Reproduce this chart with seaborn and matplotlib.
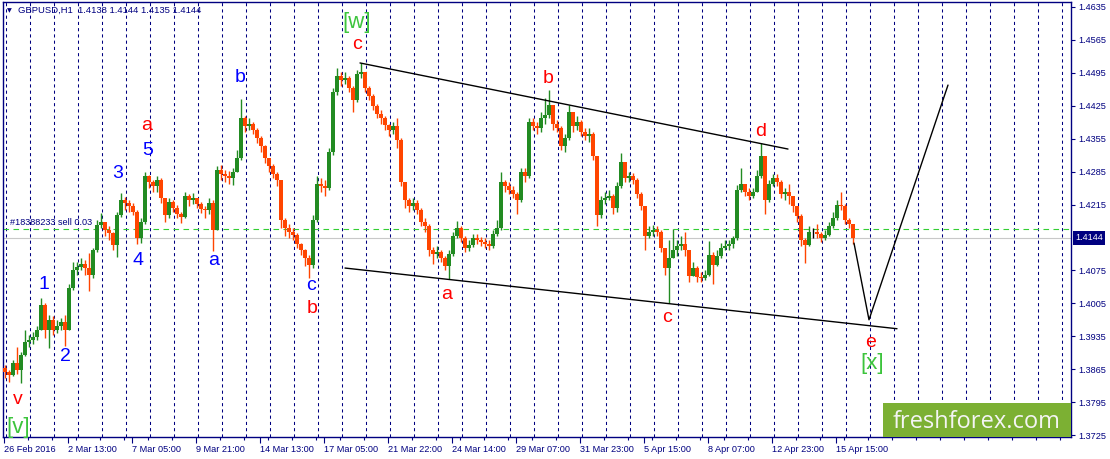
import numpy as np
import pandas as pd
import seaborn as sns
import matplotlib.pyplot as plt
from matplotlib.patches import Rectangle
import matplotlib.transforms as mtransforms

# ==============================================
# Data: H4 bars (26 Feb - 15 Apr 2016)
# ==============================================
first_open = 1.3868
close = [
    1.3859, 1.3853, 1.3878, 1.3863, 1.3895, 1.3923, 1.3927, 1.3933, 1.3948, 1.4001,
    1.3948, 1.3970, 1.3948, 1.3957, 1.3965, 1.3948, 1.4038, 1.4076, 1.4082, 1.4089,
    1.4080, 1.4065, 1.4118, 1.4172, 1.4178, 1.4161, 1.4155, 1.4129, 1.4193, 1.4225,
    1.4218, 1.4212, 1.4199, 1.4144, 1.4178, 1.4276, 1.4263, 1.4254, 1.4267, 1.4229,
    1.4193, 1.4220, 1.4208, 1.4195, 1.4189, 1.4233, 1.4225, 1.4229, 1.4216, 1.4206,
    1.4203, 1.4218, 1.4161, 1.4288, 1.4280, 1.4276, 1.4271, 1.4284, 1.4314, 1.4399,
    1.4382, 1.4386, 1.4374, 1.4357, 1.4339, 1.4314, 1.4297, 1.4280, 1.4267, 1.4182,
    1.4165, 1.4157, 1.4150, 1.4131, 1.4118, 1.4101, 1.4087, 1.4182, 1.4259, 1.4254,
    1.4250, 1.4327, 1.4454, 1.4488, 1.4480, 1.4484, 1.4463, 1.4437, 1.4493, 1.4497,
    1.4463, 1.4446, 1.4425, 1.4408, 1.4399, 1.4384, 1.4374, 1.4382, 1.4352, 1.4263,
    1.4225, 1.4212, 1.4218, 1.4203, 1.4178, 1.4169, 1.4118, 1.4110, 1.4114, 1.4101,
    1.4084, 1.4110, 1.4148, 1.4165, 1.4144, 1.4123, 1.4129, 1.4144, 1.4140, 1.4135,
    1.4131, 1.4127, 1.4152, 1.4165, 1.4263, 1.4254, 1.4246, 1.4237, 1.4225, 1.4284,
    1.4276, 1.4391, 1.4382, 1.4378, 1.4399, 1.4405, 1.4427, 1.4386, 1.4378, 1.4339,
    1.4357, 1.4412, 1.4382, 1.4391, 1.4369, 1.4361, 1.4365, 1.4318, 1.4193, 1.4225,
    1.4229, 1.4233, 1.4208, 1.4254, 1.4305, 1.4271, 1.4276, 1.4267, 1.4237, 1.4212,
    1.4148, 1.4157, 1.4161, 1.4157, 1.4123, 1.4080, 1.4101, 1.4118, 1.4127, 1.4131,
    1.4118, 1.4063, 1.4080, 1.4061, 1.4059, 1.4065, 1.4108, 1.4087, 1.4106, 1.4123,
    1.4127, 1.4131, 1.4144, 1.4246, 1.4259, 1.4242, 1.4233, 1.4242, 1.4276, 1.4318,
    1.4225, 1.4259, 1.4271, 1.4263, 1.4237, 1.4242, 1.4233, 1.4212, 1.4191, 1.4140,
    1.4129, 1.4157, 1.4157, 1.4152, 1.4144, 1.4150, 1.4169, 1.4186, 1.4214, 1.4212,
    1.4182, 1.4174, 1.4144,
]
high = [
    1.3874, 1.3863, 1.3884, 1.3912, 1.3901, 1.3948, 1.3938, 1.3944, 1.3957, 1.4016,
    1.4006, 1.3980, 1.3978, 1.3970, 1.3974, 1.3980, 1.4046, 1.4093, 1.4093, 1.4101,
    1.4097, 1.4112, 1.4123, 1.4182, 1.4197, 1.4178, 1.4169, 1.4157, 1.4199, 1.4240,
    1.4231, 1.4225, 1.4218, 1.4203, 1.4186, 1.4284, 1.4278, 1.4267, 1.4276, 1.4271,
    1.4229, 1.4229, 1.4225, 1.4214, 1.4199, 1.4242, 1.4237, 1.4240, 1.4229, 1.4220,
    1.4212, 1.4229, 1.4225, 1.4297, 1.4299, 1.4288, 1.4286, 1.4293, 1.4331, 1.4439,
    1.4403, 1.4399, 1.4391, 1.4378, 1.4361, 1.4342, 1.4314, 1.4301, 1.4284, 1.4267,
    1.4186, 1.4174, 1.4165, 1.4155, 1.4133, 1.4121, 1.4108, 1.4193, 1.4276, 1.4271,
    1.4267, 1.4335, 1.4463, 1.4505, 1.4497, 1.4497, 1.4488, 1.4467, 1.4501, 1.4516,
    1.4497, 1.4467, 1.4450, 1.4429, 1.4416, 1.4403, 1.4386, 1.4391, 1.4399, 1.4357,
    1.4263, 1.4229, 1.4229, 1.4225, 1.4208, 1.4186, 1.4174, 1.4125, 1.4127, 1.4118,
    1.4106, 1.4118, 1.4157, 1.4180, 1.4169, 1.4148, 1.4140, 1.4152, 1.4152, 1.4146,
    1.4144, 1.4140, 1.4161, 1.4182, 1.4284, 1.4267, 1.4263, 1.4254, 1.4242, 1.4293,
    1.4293, 1.4399, 1.4399, 1.4391, 1.4412, 1.4442, 1.4459, 1.4425, 1.4395, 1.4382,
    1.4365, 1.4427, 1.4412, 1.4403, 1.4395, 1.4378, 1.4378, 1.4369, 1.4318, 1.4233,
    1.4242, 1.4246, 1.4237, 1.4263, 1.4325, 1.4305, 1.4284, 1.4282, 1.4271, 1.4242,
    1.4212, 1.4169, 1.4172, 1.4169, 1.4161, 1.4123, 1.4140, 1.4163, 1.4140, 1.4148,
    1.4157, 1.4118, 1.4093, 1.4084, 1.4072, 1.4076, 1.4137, 1.4114, 1.4118, 1.4133,
    1.4140, 1.4140, 1.4148, 1.4257, 1.4293, 1.4259, 1.4250, 1.4250, 1.4288, 1.4346,
    1.4314, 1.4267, 1.4280, 1.4280, 1.4267, 1.4250, 1.4259, 1.4233, 1.4212, 1.4195,
    1.4144, 1.4169, 1.4165, 1.4174, 1.4157, 1.4161, 1.4178, 1.4199, 1.4225, 1.4242,
    1.4216, 1.4186, 1.4174,
]
low = [
    1.3846, 1.3838, 1.3850, 1.3855, 1.3836, 1.3893, 1.3912, 1.3919, 1.3927, 1.3948,
    1.3931, 1.3910, 1.3938, 1.3942, 1.3948, 1.3914, 1.3948, 1.4033, 1.4065, 1.4076,
    1.4065, 1.4031, 1.4059, 1.4114, 1.4165, 1.4148, 1.4140, 1.4118, 1.4104, 1.4189,
    1.4203, 1.4199, 1.4193, 1.4131, 1.4133, 1.4174, 1.4250, 1.4242, 1.4242, 1.4218,
    1.4178, 1.4186, 1.4199, 1.4186, 1.4176, 1.4186, 1.4212, 1.4216, 1.4208, 1.4197,
    1.4186, 1.4195, 1.4116, 1.4161, 1.4267, 1.4263, 1.4259, 1.4257, 1.4284, 1.4310,
    1.4369, 1.4374, 1.4365, 1.4346, 1.4327, 1.4303, 1.4284, 1.4271, 1.4254, 1.4165,
    1.4148, 1.4144, 1.4140, 1.4123, 1.4108, 1.4084, 1.4059, 1.4080, 1.4178, 1.4242,
    1.4233, 1.4246, 1.4320, 1.4448, 1.4467, 1.4471, 1.4454, 1.4412, 1.4433, 1.4484,
    1.4454, 1.4437, 1.4416, 1.4399, 1.4386, 1.4374, 1.4361, 1.4365, 1.4335, 1.4254,
    1.4208, 1.4199, 1.4203, 1.4195, 1.4169, 1.4157, 1.4106, 1.4089, 1.4101, 1.4093,
    1.4076, 1.4057, 1.4106, 1.4144, 1.4135, 1.4114, 1.4116, 1.4125, 1.4131, 1.4127,
    1.4123, 1.4118, 1.4123, 1.4148, 1.4161, 1.4242, 1.4237, 1.4229, 1.4195, 1.4220,
    1.4263, 1.4271, 1.4374, 1.4365, 1.4369, 1.4386, 1.4399, 1.4374, 1.4369, 1.4331,
    1.4327, 1.4352, 1.4369, 1.4374, 1.4361, 1.4352, 1.4348, 1.4310, 1.4169, 1.4186,
    1.4216, 1.4225, 1.4195, 1.4199, 1.4250, 1.4263, 1.4263, 1.4259, 1.4229, 1.4203,
    1.4118, 1.4144, 1.4148, 1.4148, 1.4114, 1.4065, 1.4006, 1.4101, 1.4106, 1.4118,
    1.4106, 1.4050, 1.4063, 1.4050, 1.4050, 1.4055, 1.4063, 1.4046, 1.4084, 1.4101,
    1.4118, 1.4118, 1.4123, 1.4140, 1.4242, 1.4233, 1.4225, 1.4229, 1.4242, 1.4271,
    1.4195, 1.4220, 1.4254, 1.4254, 1.4229, 1.4225, 1.4216, 1.4199, 1.4178, 1.4127,
    1.4091, 1.4127, 1.4144, 1.4144, 1.4135, 1.4140, 1.4148, 1.4165, 1.4182, 1.4203,
    1.4174, 1.4165, 1.4131,
]

x_labels = ["26 Feb 2016", "2 Mar 13:00", "7 Mar 05:00", "9 Mar 21:00", "14 Mar 13:00",
            "17 Mar 05:00", "21 Mar 22:00", "24 Mar 14:00", "29 Mar 07:00", "31 Mar 23:00",
            "5 Apr 15:00", "8 Apr 07:00", "12 Apr 23:00", "15 Apr 15:00"]
y_ticks = [1.3725, 1.3795, 1.3865, 1.3935, 1.4005, 1.4075, 1.4215,
           1.4285, 1.4355, 1.4425, 1.4495, 1.4565, 1.4635]

header = "GBPUSD,H1  1.4138 1.4144 1.4135 1.4144"
bid = 1.4144
order_price = 1.4163
order_text = "#18388233 sell 0.03"

# trend lines: hour index, price
upper_x, upper_y = [356.5, 784.5], [1.4516, 1.4333]
lower_x, lower_y = [341.5, 893.5], [1.4080, 1.3951]
proj_x, proj_y = [850.5, 865.5, 944.5], [1.4133, 1.3970, 1.4469]

RED, BLUE, GREEN = "#ff0000", "#0000ff", "#3cc43c"
waves = [
    ("[w]", 353.5, 1.4603, GREEN), ("c", 353.5, 1.4556, RED),
    ("b", 236.5, 1.4486, BLUE), ("a", 143.5, 1.4382, RED),
    ("5", 144.5, 1.4329, BLUE), ("3", 114.5, 1.4280, BLUE),
    ("4", 134.5, 1.4097, BLUE), ("a", 210.5, 1.4095, BLUE),
    ("1", 40.5, 1.4044, BLUE), ("2", 61.5, 1.3893, BLUE),
    ("c", 307.5, 1.4042, BLUE), ("b", 308.5, 1.3993, RED),
    ("v", 14.5, 1.3800, RED), ("[v]", 14.5, 1.3740, GREEN),
    ("b", 544.5, 1.4484, RED), ("a", 443.5, 1.4023, RED),
    ("c", 663.5, 1.3974, RED), ("d", 757.5, 1.4371, RED),
    ("e", 867.5, 1.3921, RED), ("[x]", 868.5, 1.3878, GREEN),
]

# ==============================================
# Style
# ==============================================
sns.set_theme(style="white")
plt.rcParams["font.family"] = ["Liberation Sans", "DejaVu Sans"]
NAVY = "#000080"

n_hours = 1068
hours = pd.date_range("2016-02-26 21:00", periods=1800, freq="h")
hours = hours[hours.dayofweek < 5][:n_hours]
day_starts = np.where(hours.hour == 0)[0] - 0.5

fig = plt.figure(figsize=(11.1, 4.59), dpi=100)
ax = fig.add_axes([3 / 1110, 22 / 459, 1068 / 1110, 435 / 459])
ax.set_xlim(-0.5, n_hours - 0.5)
ax.set_ylim(1.37208, 1.46456)

for xs in day_starts:
    ax.axvline(xs, color=NAVY, lw=0.75, ls=(0, (3, 3)), zorder=1)

ax.axhline(bid, color="#c8c8c8", lw=0.8, zorder=1.5)
ax.axhline(order_price, color="#32cd32", lw=0.8, ls=(0, (5, 4)), zorder=1.6)
ax.annotate(order_text, xy=(6.5, order_price), xytext=(0, 1.5), textcoords="offset points",
            color=NAVY, fontsize=6.6, va="bottom", ha="left")

# ==============================================
# Bars
# ==============================================
c = np.array(close)
o = np.r_[first_open, c[:-1]]
h = np.maximum(np.array(high), np.maximum(o, c))
lo = np.minimum(np.array(low), np.minimum(o, c))
xk = np.arange(len(c)) * 4 + 1.5
cols = np.where(c > o, "#228b22", np.where(c < o, "#ff4500", "#000000"))
body = np.where(c == o, 0.00006, c - o)

ax.vlines(xk, lo, h, colors=cols, lw=1.0, zorder=3)
ax.bar(xk, body, bottom=o, width=3.5, color=cols, linewidth=0, zorder=3)

# ==============================================
# Trend lines + projection
# ==============================================
for lx, ly in [(upper_x, upper_y), (lower_x, lower_y), (proj_x, proj_y)]:
    sns.lineplot(x=lx, y=ly, ax=ax, color="black", lw=1.0, estimator=None, sort=False, zorder=4)

for txt, bx, py, col in waves:
    size = 16 if txt.startswith("[") else 14
    ax.text(bx, py, txt, color=col, fontsize=size, ha="center", va="center", zorder=5)

# ==============================================
# Axes
# ==============================================
ax.set_xticks(np.arange(len(x_labels)) * 64)
ax.set_xticklabels(x_labels)
for lbl in ax.get_xticklabels():
    lbl.set_ha("left")
ax.set_xticks(np.arange(0, n_hours, 24), minor=True)
ax.tick_params(axis="x", which="major", bottom=True, direction="out", length=4, width=0.8,
               color=NAVY, labelcolor=NAVY, labelsize=6.6, pad=2)
ax.tick_params(axis="x", which="minor", bottom=True, direction="out", length=2, width=0.8, color=NAVY)

ax.yaxis.tick_right()
ax.set_yticks(y_ticks)
ax.set_yticklabels([f"{v:.4f}" for v in y_ticks])
ax.tick_params(axis="y", right=True, direction="out", length=3, width=0.8,
               color=NAVY, labelcolor=NAVY, labelsize=6.6, pad=2)
for sp in ax.spines.values():
    sp.set_color(NAVY)
    sp.set_linewidth(1.0)

trans = mtransforms.blended_transform_factory(ax.transAxes, ax.transData)
ax.text(1.0 + 4 / 1068, bid, f"{bid:.4f}", transform=trans, color="white", fontsize=6.6,
        ha="left", va="center", zorder=6, clip_on=False,
        bbox=dict(boxstyle="square,pad=0.25", fc=NAVY, ec="none"))

# header
fig.text(18 / 1110, 1 - 10.7 / 459, header, color=NAVY, fontsize=6.8, va="center", ha="left")
fig.text(9.5 / 1110, 1 - 11 / 459, "\u25bc", color=NAVY, fontsize=4.5, va="center", ha="center",
         family="DejaVu Sans")

# logo
ax.add_patch(Rectangle(((883 - 3) / 1068, 0), (1071 - 883) / 1068, 34 / 435,
                       transform=ax.transAxes, fc="#7cb033", ec="none", zorder=6))
ax.text((977 - 3) / 1068, 9 / 435, "freshforex.com", transform=ax.transAxes, color="#f4f4f4",
        fontsize=17, family="Open Sans", ha="center", va="baseline", zorder=7)

fig.savefig("out.png", dpi=100)
